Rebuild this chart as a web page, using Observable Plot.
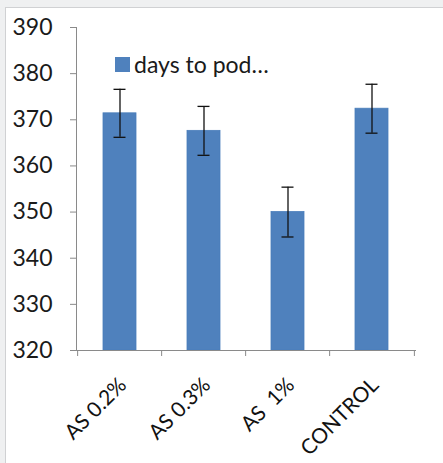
<!DOCTYPE html>
<html>
<head>
<meta charset="utf-8">
<script src="https://cdn.jsdelivr.net/npm/d3@7"></script>
<script src="https://cdn.jsdelivr.net/npm/@observablehq/plot@0.6"></script>
<style>
  html, body { margin: 0; padding: 0; background: #eff0f1; }
  #wrap { position: relative; width: 443px; height: 463px; overflow: hidden; background: #eff0f1; }
  #panel { position: absolute; left: 5px; top: 7px; right: 0; bottom: 0; background: #fff;
           border-left: 1px solid #d0d1d3; border-top: 1px solid #d0d1d3; }
  #chart { position: absolute; left: 0; top: 0; }
  #legend { position: absolute; left: 115px; top: 50px; font-family: Lato, sans-serif; font-size: 23px;
            color: #1a1a1a; display: flex; align-items: center; white-space: nowrap; }
  #legend .sw { width: 15px; height: 15px; background: #4f81bd; margin-right: 4px; margin-top: 1px; }
</style>
</head>
<body>
<div id="wrap">
  <div id="panel"></div>
  <div id="chart"></div>
  <div id="legend"><span class="sw"></span><span>days to pod…</span></div>
</div>
<script>
const categories = ["AS 0.2%", "AS 0.3%", "AS\u00a0 1%", "CONTROL"];
const values = [371.4, 367.6, 350.0, 372.4];
const errors = [5.2, 5.3, 5.4, 5.3];
const yTicks = [320, 330, 340, 350, 360, 370, 380, 390];

const rows = categories.map((c, i) => ({cat: c, value: values[i], err: errors[i]}));
const step = (443 - 76 - 28) / categories.length;

const chart = Plot.plot({
  width: 443,
  height: 463,
  marginLeft: 76,
  marginRight: 28,
  marginTop: 27,
  marginBottom: 113,
  style: {background: "transparent", fontFamily: "Lato, sans-serif", fontSize: "20px", color: "#1a1a1a", overflow: "visible"},
  x: {domain: categories, paddingInner: 0.61, paddingOuter: 0.305, label: null},
  y: {domain: [320, 390], label: null},
  marks: [
    Plot.barY(rows, {x: "cat", y1: 320, y2: "value", fill: "#4f81bd", stroke: "#4a7ebb", strokeWidth: 0.8}),
    Plot.ruleX(rows, {x: "cat", y1: d => d.value - d.err, y2: d => d.value + d.err, stroke: "#111", strokeWidth: 1.3}),
    Plot.tickY(rows, {x: "cat", y: d => d.value - d.err, insetLeft: 10.5, insetRight: 10.5, stroke: "#111", strokeWidth: 1.3}),
    Plot.tickY(rows, {x: "cat", y: d => d.value + d.err, insetLeft: 10.5, insetRight: 10.5, stroke: "#111", strokeWidth: 1.3}),
    Plot.frame({anchor: "left", stroke: "#8a8a8a"}),
    Plot.frame({anchor: "bottom", stroke: "#8a8a8a"}),
    Plot.axisY({ticks: yTicks, tickSize: 6, tickPadding: 18, stroke: "#8a8a8a", fill: "#1a1a1a", fontSize: 23, tickFormat: d => String(d)}),
    Plot.axisX(categories, {tickSize: 6, dx: -step / 2, stroke: "#8a8a8a", tickFormat: () => ""}),
    Plot.axisX([categories[categories.length - 1]], {tickSize: 6, dx: step / 2, stroke: "#8a8a8a", tickFormat: () => ""}),
    Plot.axisX({tickSize: 0, tickRotate: -45, tickPadding: 31, dx: 3, fontSize: 21, fill: "#111"})
  ]
});
document.getElementById("chart").appendChild(chart);
</script>
</body>
</html>
